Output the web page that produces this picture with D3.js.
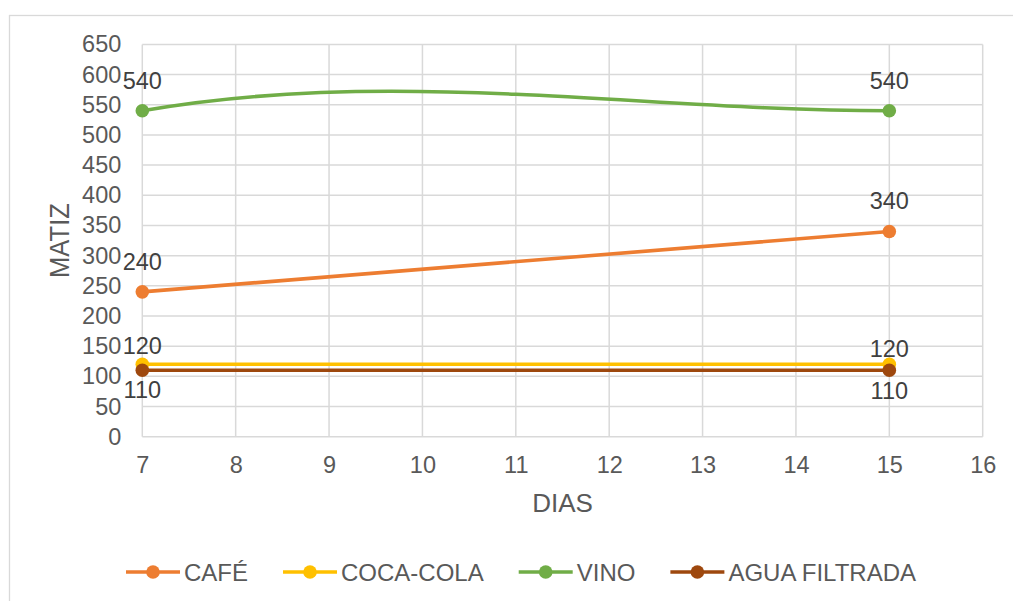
<!DOCTYPE html>
<html>
<head>
<meta charset="utf-8">
<script src="https://cdn.jsdelivr.net/npm/d3@7"></script>
<style>
  html, body { margin: 0; padding: 0; background: #fff; }
  svg { display: block; font-family: "Liberation Sans", Arial, sans-serif; }
</style>
</head>
<body>
<svg id="chart" width="1013" height="601"></svg>
<script>
// Days on the x axis, one series per drink
const days = [7, 15];
const cafe = [240, 340];
const cocaCola = [120, 120];
const vino = [540, 540];
const aguaFiltrada = [110, 110];

const seriesNames = ["CAFÉ", "COCA-COLA", "VINO", "AGUA FILTRADA"];
const seriesValues = [cafe, cocaCola, vino, aguaFiltrada];
const seriesColors = ["#ED7D31", "#FFC000", "#70AD47", "#9E480E"];

const xTicks = [7, 8, 9, 10, 11, 12, 13, 14, 15, 16];
const yTicks = [0, 50, 100, 150, 200, 250, 300, 350, 400, 450, 500, 550, 600, 650];

const xTitle = "DIAS";
const yTitle = "MATIZ";

// Where each series puts its value labels: baseline offset from the point (px)
const labelOffsets = [[-22, -22], [-10, -7], [-22, -22], [28, 29]];
// Smoothed series: lift of the first Bezier handle (px)
const smoothLift = [0, 0, 44, 0];

const svg = d3.select("#chart");
const plot = { left: 142.3, right: 982.7, top: 44.4, bottom: 436.7 };

const x = d3.scaleLinear().domain([7, 16]).range([plot.left, plot.right]);
const y = d3.scaleLinear().domain([0, 650]).range([plot.bottom, plot.top]);

// Chart area border
svg.append("rect")
  .attr("x", 9.5).attr("y", 15.5)
  .attr("width", 1040).attr("height", 620)
  .attr("fill", "#fff").attr("stroke", "#d9d9d9").attr("stroke-width", 1.3);

// Gridlines
const grid = svg.append("g").attr("stroke", "#d9d9d9").attr("stroke-width", 1.5);
grid.selectAll("line.h").data(yTicks).join("line").attr("class", "h")
  .attr("x1", plot.left).attr("x2", plot.right)
  .attr("y1", d => y(d)).attr("y2", d => y(d));
grid.selectAll("line.v").data(xTicks).join("line").attr("class", "v")
  .attr("x1", d => x(d)).attr("x2", d => x(d))
  .attr("y1", plot.top).attr("y2", plot.bottom);

// Axes (labels only; lines come from the grid)
const yAxis = svg.append("g")
  .attr("transform", `translate(${plot.left},0)`)
  .call(d3.axisLeft(y).tickValues(yTicks).tickSize(0).tickPadding(21));
const xAxis = svg.append("g")
  .attr("transform", `translate(0,${plot.bottom})`)
  .call(d3.axisBottom(x).tickValues(xTicks).tickSize(0).tickPadding(20));
[yAxis, xAxis].forEach(a => {
  a.select(".domain").remove();
  a.selectAll("text")
    .attr("fill", "#595959")
    .style("font-size", "23.5px")
    .style("font-family", "\"Liberation Sans\", Arial, sans-serif");
});

// Axis titles
svg.append("text")
  .attr("x", x(11.5)).attr("y", 511.5)
  .attr("text-anchor", "middle")
  .attr("fill", "#595959").style("font-size", "26px")
  .text(xTitle);
svg.append("text")
  .attr("transform", `translate(68.5,${(plot.top + plot.bottom) / 2}) rotate(-90)`)
  .attr("text-anchor", "middle")
  .attr("fill", "#595959").style("font-size", "27.5px")
  .attr("textLength", 75).attr("lengthAdjust", "spacingAndGlyphs")
  .text(yTitle);

// Curve that bends the segment with a raised first handle
function liftedCurve(lift) {
  return function (context) {
    let pts = [];
    return {
      lineStart() { pts = []; },
      lineEnd() {
        if (!pts.length) return;
        context.moveTo(pts[0][0], pts[0][1]);
        for (let i = 1; i < pts.length; i++) {
          const [x0, y0] = pts[i - 1], [x1, y1] = pts[i];
          const dx = (x1 - x0) / 3;
          context.bezierCurveTo(x0 + dx, y0 - lift, x1 - dx, y1, x1, y1);
        }
      },
      areaStart() {}, areaEnd() {},
      point(px, py) { pts.push([px, py]); }
    };
  };
}

// Series lines, markers and value labels
seriesValues.forEach((vals, s) => {
  const pts = days.map((d, i) => [d, vals[i]]);
  const line = d3.line()
    .x(d => x(d[0])).y(d => y(d[1]))
    .curve(smoothLift[s] ? liftedCurve(smoothLift[s]) : d3.curveLinear);
  const g = svg.append("g");
  g.append("path")
    .attr("d", line(pts))
    .attr("fill", "none")
    .attr("stroke", seriesColors[s])
    .attr("stroke-width", 3.6)
    .attr("stroke-linecap", "round");
  g.selectAll("circle").data(pts).join("circle")
    .attr("cx", d => x(d[0])).attr("cy", d => y(d[1]))
    .attr("r", 6.8)
    .attr("fill", seriesColors[s]);
  g.selectAll("text").data(pts).join("text")
    .attr("x", d => x(d[0]))
    .attr("y", (d, i) => y(d[1]) + labelOffsets[s][i])
    .attr("text-anchor", "middle")
    .attr("fill", "#404040")
    .style("font-size", "23.5px")
    .text(d => d[1]);
});

// Legend
const legend = svg.append("g").attr("transform", "translate(126,572)");
let lx = 0;
seriesNames.forEach((name, s) => {
  const item = legend.append("g").attr("transform", `translate(${lx},0)`);
  item.append("line")
    .attr("x1", 0).attr("x2", 54).attr("y1", 0).attr("y2", 0)
    .attr("stroke", seriesColors[s]).attr("stroke-width", 3.6);
  item.append("circle").attr("cx", 27).attr("cy", 0).attr("r", 6.8)
    .attr("fill", seriesColors[s]);
  const t = item.append("text")
    .attr("x", 58).attr("y", 8.5)
    .attr("fill", "#595959").style("font-size", "24px")
    .text(name);
  lx += 58 + t.node().getComputedTextLength() + 35;
});
</script>
</body>
</html>
